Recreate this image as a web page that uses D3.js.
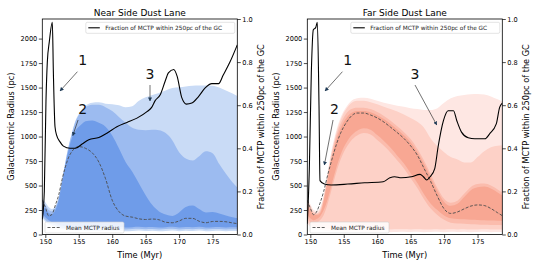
<!DOCTYPE html>
<html>
<head>
<meta charset="utf-8">
<script src="https://cdn.jsdelivr.net/npm/d3@7"></script>
<style>
body { margin: 0; background: #fff; }
svg { display: block; font-family: "DejaVu Sans", sans-serif; }
</style>
</head>
<body>
<svg id="chart" width="538" height="269"></svg>
<script>
// shared time grid (Myr) for bands and mean radius
var times = [149.55,150,150.5,151,151.5,152,152.5,153,153.5,154,154.5,155,155.5,156,
  157,158,159,160,161,162,163,164,165,166,167,168,169,170,171,172,173,174,175,176,177,178,178.7];

// ---- near side (blue) ----
var nearA_hi = [370,330,280,260,290,380,560,745,910,1045,1160,1230,1280,1315,
  1345,1350,1335,1330,1320,1300,1310,1365,1400,1425,1445,1470,1495,1502,1510,1518,1520,1520,1518,1500,1470,1440,1415];
var nearA_lo = [170,130,100,90,80,65,55,50,45,45,42,40,40,38,
  38,36,40,35,38,34,36,40,35,38,33,36,40,34,38,35,40,33,36,38,34,36,35];
var nearB_hi = [340,300,250,235,275,370,550,735,900,1035,1150,1220,1270,1300,
  1325,1325,1300,1260,1200,1140,1090,1070,1065,1070,1065,1035,960,840,775,755,800,850,830,720,620,530,480];
var nearB_lo = [190,150,120,105,95,80,70,65,62,60,60,58,58,56,
  56,55,58,54,56,52,55,58,54,56,52,55,58,52,56,54,58,52,55,56,52,54,54];
var nearD_hi = [300,260,220,205,250,350,530,715,870,990,1060,1100,1130,1155,
  1165,1140,1100,1010,880,740,640,520,400,300,235,205,190,225,280,295,260,225,230,215,195,175,165];
var nearD_lo = [215,175,145,125,115,100,90,85,82,80,80,78,78,76,
  76,75,78,74,76,72,75,78,74,76,72,75,78,72,76,74,78,72,75,76,72,74,74];
var nearMean = [350,280,190,205,300,403,560,690,790,850,885,897,893,880,
  835,740,570,350,235,188,177,160,153,158,150,125,120,138,165,165,135,120,133,134,130,118,111];

var nearFracT = [149.55,149.85,150.1,150.3,150.6,151.05,151.2,151.45,151.7,152.2,152.7,153.7,154.5,155.5,156.5,158,159.2,160.7,
  162.2,163.7,165.2,165.9,166.4,167.2,167.9,168.4,169.2,169.7,170.4,171.1,171.9,172.9,173.9,174.9,175.9,176.6,177.6,178.7];
var nearFrac = [0.07,0.2,0.62,0.8,0.895,0.985,0.76,0.5,0.46,0.43,0.41,0.40,0.40,0.42,0.44,0.45,0.47,0.50,
  0.52,0.54,0.57,0.59,0.62,0.65,0.71,0.75,0.766,0.735,0.635,0.605,0.61,0.64,0.68,0.70,0.70,0.74,0.80,0.88];

// ---- far side (red) ----
var farA_hi = [350,310,250,240,280,400,600,800,960,1090,1190,1260,1315,1355,
  1390,1395,1385,1365,1345,1330,1315,1305,1290,1280,1272,1272,1290,1345,1390,1415,1425,1432,1435,1428,1410,1380,1358];
var farA_lo = [110,80,65,55,45,40,35,32,30,30,28,28,27,27,
  27,26,28,25,27,24,26,28,25,27,24,26,28,24,27,25,28,24,26,27,24,26,26];
var farB_hi = [330,290,230,220,260,380,575,775,935,1065,1165,1240,1295,1335,
  1365,1365,1350,1330,1305,1280,1255,1225,1190,1150,1090,980,900,840,790,765,735,735,790,850,890,905,910];
var farB_lo = [130,100,85,75,68,62,58,56,55,55,54,54,53,53,
  53,52,54,52,53,51,53,54,52,53,51,52,54,51,53,52,54,51,52,53,51,52,52];
var farC_hi = [310,270,215,210,240,360,550,745,905,1030,1125,1195,1245,1275,
  1295,1295,1280,1250,1210,1160,1105,1045,975,875,755,615,475,365,325,345,415,485,515,520,500,460,430];
var farC_lo = [160,125,110,120,150,200,290,410,540,660,760,840,900,950,
  1010,1035,1020,965,905,835,755,675,575,475,360,265,200,150,120,112,110,105,103,100,98,96,95];
var farD_hi = [290,250,200,200,220,340,520,710,870,990,1080,1150,1200,1235,
  1262,1262,1248,1218,1178,1128,1073,1013,943,843,723,583,443,333,293,313,383,453,483,490,470,430,400];
var farD_lo = [200,165,145,160,190,250,340,460,590,710,810,890,950,1000,
  1060,1085,1070,1015,955,885,805,725,625,525,410,315,250,195,165,158,155,150,148,145,142,140,138];
var farMean = [350,270,202,240,330,440,580,710,830,940,1030,1100,1155,1200,
  1240,1240,1220,1190,1148,1095,1040,980,905,810,675,540,390,262,215,230,262,290,302,296,265,222,192];

var farFracT = [149.55,149.85,150.15,150.45,150.8,151.05,151.3,151.45,152.1,153.1,155.6,158.1,160.9,161.9,162.6,163.6,
  165.1,166.4,166.9,167.4,167.9,168.6,169.1,169.9,170.6,171.4,171.9,172.6,173.6,174.6,176.1,176.8,177.8,178.3,178.7];
var farFrac = [0.05,0.3,0.75,0.95,0.96,0.985,0.6,0.25,0.234,0.23,0.234,0.24,0.245,0.263,0.268,0.263,
  0.268,0.279,0.268,0.253,0.268,0.306,0.406,0.528,0.574,0.574,0.528,0.475,0.449,0.444,0.444,0.467,0.513,0.59,0.61];

// ticks
var xTicks = [150,155,160,165,170,175];
var rTicks = [0,250,500,750,1000,1250,1500,1750,2000];
var fTicks = [0,0.2,0.4,0.6,0.8,1.0];

// numbered annotations: [t, R] of label, arrow tail, arrow head
var nearNotes = [
  {label: "1", at: [155.6,1781], from: [154.8,1662], to: [152.2,1465]},
  {label: "2", at: [155.6,1281], from: [154.9,1169], to: [154.1,1009]},
  {label: "3", at: [165.65,1636], from: [165.65,1526], to: [165.65,1363]}
];
var farNotes = [
  {label: "1", at: [155.6,1781], from: [154.8,1662], to: [152.2,1465]},
  {label: "2", at: [153.6,1281], from: [153.4,1169], to: [152.1,709]},
  {label: "3", at: [165.65,1636], from: [165.65,1526], to: [168.9,1118]}
];

var svg = d3.select("#chart");
var defs = svg.append("defs");
defs.append("marker")
    .attr("id", "head")
    .attr("viewBox", "0 0 10 10")
    .attr("refX", 9).attr("refY", 5)
    .attr("markerWidth", 4).attr("markerHeight", 4)
    .attr("markerUnits", "userSpaceOnUse")
    .attr("orient", "auto")
  .append("path")
    .attr("d", "M0,0L10,5L0,10z")
    .attr("fill", "#1f3b57");

function drawPanel(p) {
  var x = d3.scaleLinear().domain([149.55, 178.7]).range([p.left, p.left + 195]);
  var y = d3.scaleLinear().domain([0, 2200]).range([234.5, 19]);
  var yF = d3.scaleLinear().domain([0, 1]).range([234.5, 19]);

  defs.append("clipPath").attr("id", p.id + "clip")
    .append("rect").attr("x", x.range()[0]).attr("y", 19)
    .attr("width", 195).attr("height", 215.5);

  var g = svg.append("g");
  var plot = g.append("g").attr("clip-path", "url(#" + p.id + "clip)");

  var area = d3.area()
    .x(function (d) { return x(d.t); })
    .y0(function (d) { return y(d.lo); })
    .y1(function (d) { return y(d.hi); })
    .curve(d3.curveMonotoneX);

  p.bands.forEach(function (b) {
    var rows = times.map(function (t, i) { return {t: t, lo: b.lo[i], hi: b.hi[i]}; });
    plot.append("path").datum(rows).attr("d", area).attr("fill", b.color);
  });

  var meanLine = d3.line()
    .x(function (d, i) { return x(times[i]); })
    .y(function (d) { return y(d); })
    .curve(d3.curveMonotoneX);
  plot.append("path").datum(p.mean).attr("d", meanLine)
    .attr("fill", "none").attr("stroke", "#4d4d4d")
    .attr("stroke-width", 0.9).attr("stroke-dasharray", "3,1.6");

  var fracLine = d3.line()
    .x(function (d, i) { return x(p.fracT[i]); })
    .y(function (d) { return yF(d); })
    .curve(d3.curveMonotoneX);
  plot.append("path").datum(p.frac).attr("d", fracLine)
    .attr("fill", "none").attr("stroke", "#000").attr("stroke-width", 1.1);

  // annotations
  p.notes.forEach(function (n) {
    g.append("line")
      .attr("x1", x(n.from[0])).attr("y1", y(n.from[1]))
      .attr("x2", x(n.to[0])).attr("y2", y(n.to[1]))
      .attr("stroke", "#333").attr("stroke-width", 0.7)
      .attr("marker-end", "url(#head)");
    g.append("text")
      .attr("x", x(n.at[0])).attr("y", y(n.at[1]) + 5)
      .attr("text-anchor", "middle").attr("font-size", 14)
      .attr("fill", "#111").text(n.label);
  });

  // legends
  var lx = x.range()[1] - 2.5, lw = 149;
  g.append("rect").attr("x", lx - lw).attr("y", 22.3).attr("width", lw).attr("height", 11)
    .attr("rx", 1.5).attr("fill", "#fff").attr("fill-opacity", 0.85)
    .attr("stroke", "#d0d0d0").attr("stroke-width", 0.6);
  g.append("line").attr("x1", lx - lw + 2.5).attr("x2", lx - lw + 14)
    .attr("y1", 27.8).attr("y2", 27.8).attr("stroke", "#000").attr("stroke-width", 1.1);
  g.append("text").attr("x", lx - lw + 19.5).attr("y", 29.9)
    .attr("font-size", 5.8).attr("fill", "#222")
    .text("Fraction of MCTP within 250pc of the GC");

  var bx = x.range()[0] + 2.7, bw = 79;
  g.append("rect").attr("x", bx).attr("y", 222).attr("width", bw).attr("height", 11)
    .attr("rx", 1.5).attr("fill", "#fff").attr("fill-opacity", 0.85)
    .attr("stroke", "#d0d0d0").attr("stroke-width", 0.6);
  g.append("line").attr("x1", bx + 2.5).attr("x2", bx + 16)
    .attr("y1", 227.5).attr("y2", 227.5).attr("stroke", "#4d4d4d")
    .attr("stroke-width", 0.9).attr("stroke-dasharray", "3,1.6");
  g.append("text").attr("x", bx + 21).attr("y", 229.6)
    .attr("font-size", 5.8).attr("fill", "#222").text("Mean MCTP radius");

  // axes
  var ax = g.append("g").attr("transform", "translate(0,234.5)")
    .call(d3.axisBottom(x).tickValues(xTicks).tickFormat(d3.format("d")).tickSize(3.5).tickPadding(1.5));
  var ay = g.append("g").attr("transform", "translate(" + x.range()[0] + ",0)")
    .call(d3.axisLeft(y).tickValues(rTicks).tickFormat(d3.format("d")).tickSize(3.5).tickPadding(1.5));
  var ar = g.append("g").attr("transform", "translate(" + x.range()[1] + ",0)")
    .call(d3.axisRight(yF).tickValues(fTicks).tickFormat(d3.format(".1f")).tickSize(3.5).tickPadding(1.5));
  [ax, ay, ar].forEach(function (a) {
    a.select(".domain").remove();
    a.selectAll("line").attr("stroke", "#000").attr("stroke-width", 0.7);
    a.selectAll("text").attr("font-size", 6.6).attr("fill", "#000")
      .attr("font-family", "DejaVu Sans");
  });

  g.append("rect").attr("x", x.range()[0]).attr("y", 19)
    .attr("width", 195).attr("height", 215.5)
    .attr("fill", "none").attr("stroke", "#000").attr("stroke-width", 0.8);

  // titles and axis labels
  var cx = (x.range()[0] + x.range()[1]) / 2;
  g.append("text").attr("x", cx).attr("y", 15.5).attr("text-anchor", "middle")
    .attr("font-size", 9).text(p.title);
  g.append("text").attr("x", cx).attr("y", 257.5).attr("text-anchor", "middle")
    .attr("font-size", 8.3).text("Time (Myr)");
  g.append("text").attr("transform", "translate(" + (x.range()[0] - 28) + ",126.75) rotate(-90)")
    .attr("text-anchor", "middle").attr("font-size", 8.2).text("Galactocentric Radius (pc)");
  g.append("text").attr("transform", "translate(" + (x.range()[1] + 26.5) + ",126.75) rotate(-90)")
    .attr("text-anchor", "middle").attr("font-size", 8.2).text("Fraction of MCTP within 250pc of the GC");
}

drawPanel({
  id: "near", left: 42.3, title: "Near Side Dust Lane",
  bands: [
    {hi: nearA_hi, lo: nearA_lo, color: "#c9dbf6"},
    {hi: nearB_hi, lo: nearB_lo, color: "#9cbbf0"},
    {hi: nearD_hi, lo: nearD_lo, color: "#6f9ce9"}
  ],
  mean: nearMean, fracT: nearFracT, frac: nearFrac, notes: nearNotes
});

drawPanel({
  id: "far", left: 307.3, title: "Far Side Dust Lane",
  bands: [
    {hi: farA_hi, lo: farA_lo, color: "#fee7e3"},
    {hi: farB_hi, lo: farB_lo, color: "#fdd1c7"},
    {hi: farC_hi, lo: farC_lo, color: "#fbbcad"},
    {hi: farD_hi, lo: farD_lo, color: "#f8a793"}
  ],
  mean: farMean, fracT: farFracT, frac: farFrac, notes: farNotes
});
</script>
</body>
</html>
